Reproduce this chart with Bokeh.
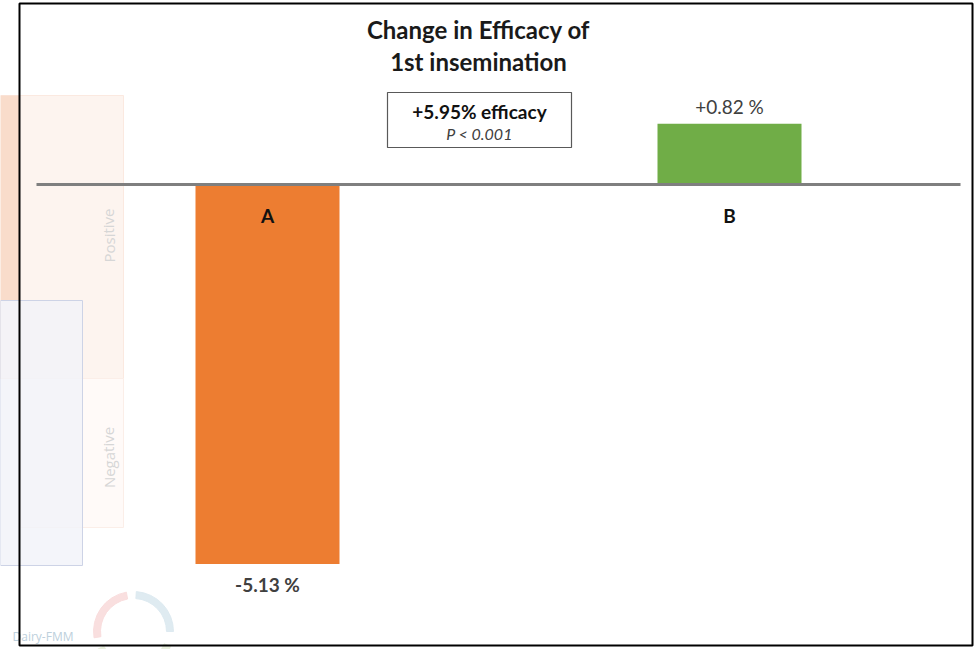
from bokeh.plotting import figure
from bokeh.models import Range1d, ColumnDataSource, BoxAnnotation
from bokeh.core.properties import value
from bokeh.embed import file_html
from bokeh.resources import INLINE

# ---- data ----
categories = ["A", "B"]
changes = [-5.13, 0.82]
value_labels = ["-5.13 %", "+0.82 %"]
bar_colors = ["#ED7D31", "#70AD47"]
title_lines = ["Change in Efficacy of", "1st insemination"]
box_lines = ["+5.95% efficacy", "P < 0.001"]

# ---- layout constants ----
W, H = 977, 649
PX_X = 462.0          # pixels per category step
PX_Y = 74.0           # pixels per percentage point
ZERO_PY = 184         # zero line position from figure top (px)
FIRST_PX = 267        # centre of first category from figure left (px)

x0 = 1 - FIRST_PX / PX_X
x1 = x0 + W / PX_X
y1 = ZERO_PY / PX_Y
y0 = y1 - H / PX_Y

def dx(px):  # picture px -> data x
    return x0 + px / PX_X

def dy(py):  # picture px -> data y
    return (ZERO_PY - py) / PX_Y

p = figure(width=W, height=H, output_backend="svg", toolbar_location=None,
           x_range=Range1d(x0, x1), y_range=Range1d(y0, y1),
           min_border=0, min_border_left=0, min_border_right=0,
           min_border_top=0, min_border_bottom=0)
p.axis.visible = False
p.xgrid.visible = False
p.ygrid.visible = False
p.outline_line_color = None
p.background_fill_color = "white"
p.border_fill_color = "white"

# ---- faded background artefact (left side) ----
p.quad(left=[dx(0)], right=[dx(123)], top=[dy(95)], bottom=[dy(378)],
       fill_color="#fdf4ef", line_color="#fbe9e0", line_width=1)
p.quad(left=[dx(0)], right=[dx(19)], top=[dy(95)], bottom=[dy(300)],
       fill_color="#f9dccb", line_color=None)
p.quad(left=[dx(20)], right=[dx(123)], top=[dy(378)], bottom=[dy(527)],
       fill_color="#fffaf8", line_color="#fbeee8", line_width=1)
p.quad(left=[dx(0)], right=[dx(82)], top=[dy(300)], bottom=[dy(565)],
       fill_color="#f1f3f9", fill_alpha=0.8, line_color="#cdd3e6", line_width=1)
p.text(x=[dx(108), dx(108)], y=[dy(235), dy(457)], text=["Positive", "Negative"],
       angle=1.5708, text_align="center", text_baseline="middle",
       text_color="#d6d6d6", text_font=value("Open Sans"), text_font_size="15px")
p.annular_wedge(x=[dx(133)] * 3, y=[dy(631)] * 3, inner_radius=33, outer_radius=40,
                inner_radius_units="screen", outer_radius_units="screen",
                start_angle=[1.75, 0.0, 3.6], end_angle=[3.3, 1.5, 5.9],
                color=["#f8dcdc", "#dce9ef", "#e8f0dc"], alpha=0.9)
p.text(x=[dx(12)], y=[dy(636)], text=["Dairy-FMM"], text_align="left",
       text_baseline="middle", text_color="#bdd0dc", text_font=value("Open Sans"),
       text_font_size="12px")

# ---- bars ----
src = ColumnDataSource(dict(
    x=[i + 1 for i in range(len(categories))],
    cat=categories, val=changes, lab=value_labels, color=bar_colors,
    off=[20 if v < 0 else -17 for v in changes],
    style=["bold" if v < 0 else "normal" for v in changes],
))
p.vbar(x="x", top="val", bottom=0, width=144 / PX_X, source=src,
       fill_color="color", line_color=None)

# zero line
p.line(x=[0.5, len(categories) + 0.5], y=[0, 0], line_color="#7f7f7f", line_width=3)

# category labels
p.text(x="x", y=0, text="cat", source=src, y_offset=31, text_align="center",
       text_baseline="middle", text_font=value("Lato"), text_font_style="bold",
       text_font_size="19px", text_color="#111111")

# value labels
p.text(x="x", y="val", text="lab", source=src, y_offset="off", text_align="center",
       text_baseline="middle", text_font=value("Lato"), text_font_style="style",
       text_font_size="19px", text_color="#404040")

# title
p.text(x=[dx(478), dx(478)], y=[dy(29), dy(61)], text=title_lines,
       text_align="center", text_baseline="middle", text_font=value("Lato"),
       text_font_style="bold", text_font_size="24px", text_color="#1a1a1a")

# annotation box
p.quad(left=[dx(387)], right=[dx(571)], top=[dy(92)], bottom=[dy(147)],
       fill_color="white", line_color="#595959", line_width=1.2)
p.text(x=[dx(479)], y=[dy(111)], text=[box_lines[0]], text_align="center",
       text_baseline="middle", text_font=value("Lato"), text_font_style="bold",
       text_font_size="19px", text_color="#111111")
p.text(x=[dx(479)], y=[dy(133)], text=[box_lines[1]], text_align="center",
       text_baseline="middle", text_font=value("Lato"), text_font_style="italic",
       text_font_size="16px", text_color="#404040")

# outer frame
p.add_layout(BoxAnnotation(left=dx(19), right=dx(972), top=dy(3), bottom=dy(645),
                           fill_alpha=0, line_color="black", line_alpha=1,
                           line_width=2))

open("out.html", "w").write(file_html(p, INLINE))
